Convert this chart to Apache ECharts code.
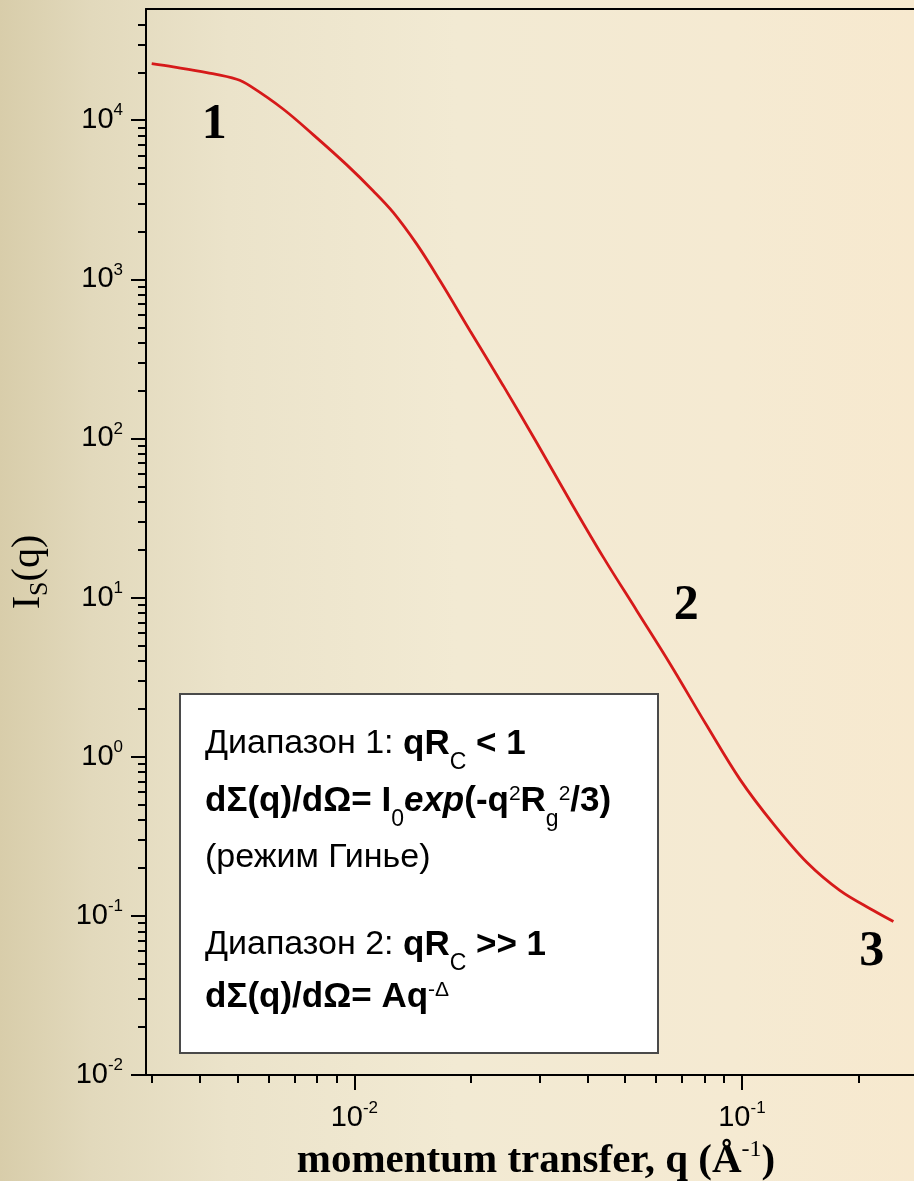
<!DOCTYPE html>
<html>
<head>
<meta charset="utf-8">
<script src="https://cdn.jsdelivr.net/npm/echarts@6/dist/echarts.min.js"></script>
<style>
html,body{margin:0;padding:0;background:#f1e9d2;}
#c{width:914px;height:1181px;}
</style>
</head>
<body>
<div id="c"></div>
<script>
// ---- data ----
const qValues = [0.00300, 0.00341, 0.00416, 0.00497, 0.00538, 0.00656, 0.00784, 0.00956, 0.01119, 0.01261,
  0.01449, 0.01664, 0.01988, 0.02424, 0.02956, 0.03601, 0.04391, 0.05355, 0.06529, 0.08116,
  0.09895, 0.1206, 0.1470, 0.1792, 0.2184, 0.2460];
const intensity = [22670, 21620, 19910, 18090, 16430, 11720, 8090, 5240, 3596, 2628,
  1664, 979, 475, 214, 94.0, 40.6, 17.9, 8.28, 3.83, 1.57,
  0.718, 0.378, 0.217, 0.144, 0.108, 0.0921];

const xMin = 0.0029, xMax = 0.278;
const yMin = 0.01, yMax = 50000;

const xMajorTicks = [0.01, 0.1];
const xTickExponents = ['-2', '-1'];
const xMinorTicks = [0.003, 0.004, 0.005, 0.006, 0.007, 0.008, 0.009,
  0.02, 0.03, 0.04, 0.05, 0.06, 0.07, 0.08, 0.09, 0.2];

const yMajorTicks = [0.01, 0.1, 1, 10, 100, 1000, 10000];
const yTickExponents = ['-2', '-1', '0', '1', '2', '3', '4'];
const yMinorTicks = [
  0.02, 0.03, 0.04, 0.05, 0.06, 0.07, 0.08, 0.09,
  0.2, 0.3, 0.4, 0.5, 0.6, 0.7, 0.8, 0.9,
  2, 3, 4, 5, 6, 7, 8, 9,
  20, 30, 40, 50, 60, 70, 80, 90,
  200, 300, 400, 500, 600, 700, 800, 900,
  2000, 3000, 4000, 5000, 6000, 7000, 8000, 9000,
  20000, 30000, 40000];

const regionLabels = ['1', '2', '3'];
const regionLabelQ = [0.00435, 0.0718, 0.2163];
const regionLabelI = [9270, 8.89, 0.0593];

const xAxisTitle = '{n|momentum transfer, q (Å}{s|-1}{n|)}';
const yAxisTitle = '{n|I}{s|S}{n|(q)}';
const boxLines = [
  '{r|Диапазон 1: }{b|qR}{sub|C}{b| < 1}',
  '{b|dΣ(q)/dΩ= I}{sub|0}{bi|exp}{b|(-q}{sup|2}{b|R}{sub|g}{sup|2}{b|/3)}',
  '{r|(режим Гинье)}',
  '{r|Диапазон 2: }{b|qR}{sub|C}{b| >> 1}',
  '{b|dΣ(q)/dΩ= Aq}{sup|-Δ}'
];

// ---- styling ----
const SANS = "'Liberation Sans', Arial, sans-serif";
const SERIF = "'Liberation Serif', 'Times New Roman', serif";

const tickRich = {
  b: {fontFamily: SANS, fontSize: 29, lineHeight: 36, color: '#000'},
  s: {fontFamily: SANS, fontSize: 17, lineHeight: 18, verticalAlign: 'top', color: '#000'}
};
function makeFormatter(ticks, exps) {
  return function (v) {
    let idx = 0, best = Infinity;
    ticks.forEach((t, i) => { const d = Math.abs(Math.log10(t) - Math.log10(v)); if (d < best) { best = d; idx = i; } });
    return '{b|10}{s|' + exps[idx] + '}';
  };
}
const lineSt = {color: '#000', width: 2};

const boxRich = {
  r: {fontFamily: SANS, fontSize: 34, lineHeight: 60, color: '#000'},
  b: {fontFamily: SANS, fontSize: 35, fontWeight: 'bold', lineHeight: 60, color: '#000'},
  bi: {fontFamily: SANS, fontSize: 35, fontWeight: 'bold', fontStyle: 'italic', lineHeight: 60, color: '#000'},
  sub: {fontFamily: SANS, fontSize: 23, lineHeight: 23, verticalAlign: 'bottom', color: '#000'},
  sup: {fontFamily: SANS, fontSize: 21, height: 46, lineHeight: 46, verticalAlign: 'top', color: '#000'}
};
const boxLineY = [744, 801, 858, 945, 997];

const chart = echarts.init(document.getElementById('c'), null, {renderer: 'canvas'});

const option = {
  animation: false,
  backgroundColor: {
    type: 'linear', x: 0, y: 0, x2: 1, y2: 0,
    colorStops: [
      {offset: 0, color: '#d8cdaa'},
      {offset: 0.1, color: '#e2d9bc'},
      {offset: 0.25, color: '#ebe3ca'},
      {offset: 0.5, color: '#f2ead3'},
      {offset: 0.8, color: '#f5ead2'},
      {offset: 1, color: '#f7e9cf'}
    ]
  },
  grid: {left: 146, right: 0, top: 9, bottom: 106, containLabel: false, outerBoundsMode: 'none'},
  xAxis: [
    {
      type: 'log', logBase: 10, min: xMin, max: xMax, position: 'bottom',
      axisLine: {show: true, onZero: false, lineStyle: lineSt},
      axisTick: {show: true, customValues: xMajorTicks, length: 15, lineStyle: lineSt},
      axisLabel: {show: true, customValues: xMajorTicks, margin: 25,
        formatter: makeFormatter(xMajorTicks, xTickExponents), rich: tickRich},
      splitLine: {show: false},
      name: xAxisTitle, nameLocation: 'middle', nameGap: 48,
      nameTextStyle: {
        padding: [0, 0, 0, 12],
        rich: {
          n: {fontFamily: SERIF, fontWeight: 'bold', fontSize: 41, lineHeight: 48, color: '#000'},
          s: {fontFamily: SERIF, fontSize: 24, lineHeight: 30, verticalAlign: 'top', color: '#000'}
        }
      }
    },
    {
      type: 'log', logBase: 10, min: xMin, max: xMax, position: 'bottom',
      axisLine: {show: false, onZero: false},
      axisTick: {show: true, customValues: xMinorTicks, length: 8, lineStyle: lineSt},
      axisLabel: {show: false}, splitLine: {show: false}
    },
    {
      type: 'log', logBase: 10, min: xMin, max: xMax, position: 'top',
      axisLine: {show: true, onZero: false, lineStyle: lineSt},
      axisTick: {show: false}, axisLabel: {show: false}, splitLine: {show: false}
    }
  ],
  yAxis: [
    {
      type: 'log', logBase: 10, min: yMin, max: yMax, position: 'left',
      axisLine: {show: true, onZero: false, lineStyle: lineSt},
      axisTick: {show: true, customValues: yMajorTicks, length: 15, lineStyle: lineSt},
      axisLabel: {show: true, customValues: yMajorTicks, margin: 23,
        formatter: makeFormatter(yMajorTicks, yTickExponents), rich: tickRich},
      splitLine: {show: false}
    },
    {
      type: 'log', logBase: 10, min: yMin, max: yMax, position: 'left',
      axisLine: {show: false, onZero: false},
      axisTick: {show: true, customValues: yMinorTicks, length: 8, lineStyle: lineSt},
      axisLabel: {show: false}, splitLine: {show: false}
    }
  ],
  series: [
    {
      type: 'line', xAxisIndex: 0, yAxisIndex: 0,
      data: qValues.map((q, i) => [q, intensity[i]]),
      showSymbol: false, smooth: 0.35,
      lineStyle: {color: '#d61a1a', width: 2.8},
      silent: true
    },
    {
      type: 'scatter', xAxisIndex: 0, yAxisIndex: 0,
      data: regionLabels.map((t, i) => ({name: t, value: [regionLabelQ[i], regionLabelI[i]]})),
      symbolSize: 0, itemStyle: {color: '#000', opacity: 1}, silent: true,
      label: {show: true, position: 'inside', formatter: '{b}', opacity: 1,
        textBorderWidth: 0, fontFamily: SERIF, fontWeight: 'bold', fontSize: 50, color: '#000'}
    }
  ],
  graphic: [
    {
      type: 'text', x: 28, y: 572, rotation: Math.PI / 2,
      style: {
        text: yAxisTitle, align: 'center', verticalAlign: 'middle',
        textAlign: 'center', textVerticalAlign: 'middle',
        rich: {
          n: {fontFamily: SERIF, fontSize: 40, lineHeight: 50, color: '#000'},
          s: {fontFamily: SERIF, fontSize: 26, lineHeight: 26, verticalAlign: 'bottom', color: '#000'}
        }
      }
    },
    {
      type: 'rect', shape: {x: 180, y: 694, width: 478, height: 359},
      style: {fill: '#ffffff', stroke: '#4a4a4a', lineWidth: 2}, z: 10
    }
  ].concat(boxLines.map((t, i) => ({
    type: 'text', x: 205, y: boxLineY[i], z: 11,
    style: {text: t, rich: boxRich, align: 'left', verticalAlign: 'middle',
      textAlign: 'left', textVerticalAlign: 'middle'}
  })))
};
chart.setOption(option);
</script>
</body>
</html>
